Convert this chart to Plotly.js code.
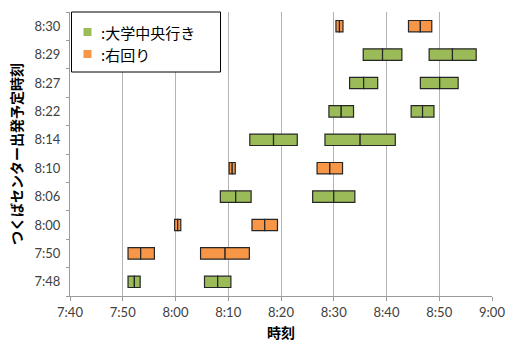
<!DOCTYPE html>
<html>
<head>
<meta charset="utf-8">
<script src="https://cdn.plot.ly/plotly-3.0.1.min.js"></script>
<style>
  html, body { margin: 0; padding: 0; background: #fff; }
  #chart { width: 506px; height: 342px; }
</style>
</head>
<body>
<div id="chart"></div>
<script>
// Scheduled departure from Tsukuba Center (bottom to top)
const categories = ["7:48", "7:50", "8:00", "8:06", "8:10", "8:14", "8:22", "8:27", "8:29", "8:30"];
// Route of each departure
const routes = ["green", "orange", "orange", "green", "orange", "green", "green", "green", "green", "orange"];

// First time window: start / middle / end (h:mm:ss)
const firstStart = ["7:51:00", "7:51:00", "7:59:50", "8:08:30", "8:10:10", "8:14:05", "8:29:05", "8:33:00", "8:35:35", "8:30:25"];
const firstMid   = ["7:52:12", "7:53:24", "8:00:25", "8:11:25", "8:10:45", "8:18:35", "8:31:25", "8:35:40", "8:39:15", "8:31:05"];
const firstEnd   = ["7:53:18", "7:56:00", "8:01:00", "8:14:20", "8:11:20", "8:23:05", "8:33:45", "8:38:20", "8:42:55", "8:31:45"];

// Second time window: start / middle / end
const secondStart = ["8:05:30", "8:04:45", "8:14:30", "8:26:00", "8:26:50", "8:28:20", "8:44:40", "8:46:25", "8:48:05", "8:44:10"];
const secondMid   = ["8:08:00", "8:09:24", "8:16:55", "8:30:00", "8:29:15", "8:35:00", "8:46:50", "8:50:05", "8:52:30", "8:46:25"];
const secondEnd   = ["8:10:30", "8:14:00", "8:19:20", "8:34:00", "8:31:40", "8:41:40", "8:49:00", "8:53:35", "8:57:00", "8:48:35"];

const routeOrder = ["green", "orange"];
const routeNames = { green: ":大学中央行き", orange: ":右回り" };
const routeColors = { green: "#9BBB59", orange: "#F79646" };

const timeTicks = ["7:40", "7:50", "8:00", "8:10", "8:20", "8:30", "8:40", "8:50", "9:00"];

// "h:mm[:ss]" -> minutes after midnight
function toMin(s) {
  const p = s.split(":").map(Number);
  return p[0] * 60 + p[1] + (p[2] || 0) / 60;
}

const W = 506, H = 342;
const M = { l: 70, r: 14, t: 12, b: 46 };
// pixel position inside the figure -> paper coordinates
const px = x => (x - M.l) / (W - M.l - M.r);
const py = y => (H - M.b - y) / (H - M.t - M.b);

const traces = [];
routeOrder.forEach(route => {
  const idx = categories.map((c, i) => i).filter(i => routes[i] === route);
  const windows = [[firstStart, firstMid, firstEnd], [secondStart, secondMid, secondEnd]];
  windows.forEach(([s, m, e]) => {
    // start -> middle, then middle -> end
    [[s, m], [m, e]].forEach(([a, b]) => {
      traces.push({
        type: "bar",
        orientation: "h",
        name: routeNames[route],
        y: idx.map(i => categories[i]),
        base: idx.map(i => toMin(a[i])),
        x: idx.map(i => toMin(b[i]) - toMin(a[i])),
        width: 0.4,
        marker: { color: routeColors[route], line: { color: "#262626", width: 1.2 } },
        showlegend: false,
        hoverinfo: "skip"
      });
    });
  });
});

// Boxed key in the upper-left corner
const rowGap = 22;
const firstRow = 32;
const shapes = [{
  type: "rect", xref: "paper", yref: "paper",
  x0: px(71.5), x1: px(220.5), y0: py(72), y1: py(12),
  fillcolor: "#ffffff", line: { color: "#000000", width: 1 }, layer: "above"
}];
const annotations = [];
routeOrder.forEach((route, k) => {
  const cy = firstRow + k * rowGap;
  shapes.push({
    type: "rect", xref: "paper", yref: "paper",
    x0: px(83.5), x1: px(91.5), y0: py(cy + 4), y1: py(cy - 4),
    fillcolor: routeColors[route], line: { width: 0 }, layer: "above"
  });
  annotations.push({
    xref: "paper", yref: "paper", x: px(99), y: py(cy),
    xanchor: "left", yanchor: "middle", showarrow: false,
    text: routeNames[route],
    font: { family: "'Noto Sans CJK JP', sans-serif", size: 15, color: "#000" }
  });
});

const layout = {
  width: W,
  height: H,
  margin: M,
  paper_bgcolor: "#ffffff",
  plot_bgcolor: "#ffffff",
  barmode: "overlay",
  showlegend: false,
  font: { family: "Lato, 'Noto Sans CJK JP', sans-serif", color: "#404040", size: 13 },
  xaxis: {
    range: [toMin(timeTicks[0]), toMin(timeTicks[timeTicks.length - 1])],
    tickvals: timeTicks.map(toMin),
    ticktext: timeTicks,
    showgrid: true,
    gridcolor: "#b3b3b3",
    gridwidth: 1,
    zeroline: false,
    showline: true,
    linecolor: "#9a9a9a",
    linewidth: 1,
    ticks: "outside",
    ticklen: 4,
    tickcolor: "#9a9a9a",
    tickfont: { size: 13, color: "#404040" },
    title: {
      text: "時刻",
      font: { family: "'Noto Sans CJK JP', sans-serif", size: 14, color: "#000", weight: "bold" },
      standoff: 9
    },
    fixedrange: true
  },
  yaxis: {
    type: "category",
    categoryorder: "array",
    categoryarray: categories,
    showgrid: false,
    zeroline: false,
    showline: true,
    linecolor: "#9a9a9a",
    linewidth: 1,
    ticks: "outside",
    tickson: "boundaries",
    ticklen: 3,
    tickcolor: "#9a9a9a",
    ticklabelstandoff: 6,
    tickfont: { size: 13, color: "#404040" },
    title: {
      text: "つくばセンター出発予定時刻",
      font: { family: "'Noto Sans CJK JP', sans-serif", size: 14, color: "#000", weight: "bold" },
      standoff: 8
    },
    fixedrange: true
  },
  shapes: shapes,
  annotations: annotations
};

Plotly.newPlot("chart", traces, layout, { displayModeBar: false, staticPlot: true });
</script>
</body>
</html>
